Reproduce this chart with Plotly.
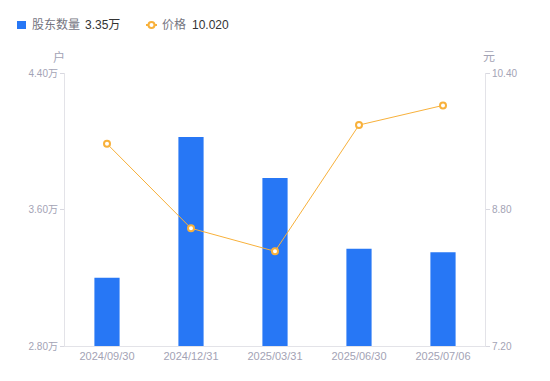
import plotly.graph_objects as go

categories = ["2024/09/30", "2024/12/31", "2025/03/31", "2025/06/30", "2025/07/06"]
holders = [3.20, 4.025, 3.785, 3.37, 3.35]  # 万户
prices = [9.57, 8.58, 8.31, 9.79, 10.02]     # 元
left_ticks = [2.80, 3.60, 4.40]
left_ticktext = ["2.80万", "3.60万", "4.40万"]
right_ticks = [7.20, 8.80, 10.40]
right_ticktext = ["7.20", "8.80", "10.40"]

BLUE = "#2777f5"
ORANGE = "#f8b13b"
TICK = "#a3a3b5"
FONT = "Liberation Sans, Arial, Noto Sans CJK SC, sans-serif"

fig = go.Figure()
fig.add_trace(go.Bar(x=categories, y=holders, marker=dict(color=BLUE, line=dict(width=0)),
                     yaxis="y", showlegend=False))
fig.add_trace(go.Scatter(x=categories, y=prices, yaxis="y2", mode="lines+markers",
                         line=dict(color=ORANGE, width=1),
                         marker=dict(symbol="circle", size=6, color="white",
                                     line=dict(color=ORANGE, width=2)),
                         showlegend=False))

fig.update_layout(
    width=550, height=381,
    margin=dict(l=65, r=65, t=73, b=35),
    paper_bgcolor="white", plot_bgcolor="white",
    bargap=0.7,
    font=dict(family=FONT, size=11, color=TICK),
    xaxis=dict(type="category", showgrid=False, showline=True, linecolor="#e3e3e8",
               linewidth=1, ticks="", tickfont=dict(size=11, color=TICK)),
    yaxis=dict(range=[2.80, 4.40], tickvals=left_ticks, ticktext=left_ticktext,
               showgrid=False, zeroline=False, showline=True, linecolor="#e3e3e8",
               ticks="outside", ticklen=4, tickcolor="#d8d8e0",
               tickfont=dict(size=10, color=TICK)),
    yaxis2=dict(range=[7.20, 10.40], tickvals=right_ticks, ticktext=right_ticktext,
                overlaying="y", side="right", showgrid=False, zeroline=False,
                showline=True, linecolor="#e3e3e8",
                ticks="outside", ticklen=4, tickcolor="#d8d8e0",
                tickfont=dict(size=10, color=TICK)),
    showlegend=False,
)

# pixel helpers relative to the plot area
def px_x(x):
    return (x - 65) / 420.0

def px_y(y):
    return (346 - y) / 273.0

def label(x, y, text, color, size=12, xanchor="center"):
    fig.add_annotation(x=px_x(x), y=px_y(y), xref="paper", yref="paper",
                       xanchor=xanchor, yanchor="middle", text=text, showarrow=False,
                       font=dict(size=size, color=color))

label(59, 57, "户", TICK)
label(489, 57, "元", TICK)

LY = 25
fig.add_shape(type="rect", xref="paper", yref="paper",
              x0=px_x(17), x1=px_x(26), y0=px_y(LY + 4), y1=px_y(LY - 4),
              fillcolor=BLUE, line=dict(width=0))
label(30, LY, "股东数量", "#75757f", xanchor="left")
label(83, LY, f"{holders[-1]:.2f}万", "#333333", xanchor="left")
fig.add_shape(type="line", xref="paper", yref="paper",
              x0=px_x(146), x1=px_x(157), y0=px_y(LY), y1=px_y(LY),
              line=dict(color=ORANGE, width=2))
fig.add_shape(type="circle", xref="paper", yref="paper",
              x0=px_x(148.5), x1=px_x(154.5), y0=px_y(LY + 3), y1=px_y(LY - 3),
              fillcolor="white", line=dict(color=ORANGE, width=2))
label(160, LY, "价格", "#75757f", xanchor="left")
label(190, LY, f"{prices[-1]:.3f}", "#333333", xanchor="left")

fig.write_html("out.html", config={"displayModeBar": False})

with open("out.html", "r", encoding="utf-8") as f:
    html = f.read()
html = html.replace("<body>", '<body style="margin:0;padding:0;overflow:hidden">', 1)
with open("out.html", "w", encoding="utf-8") as f:
    f.write(html)
